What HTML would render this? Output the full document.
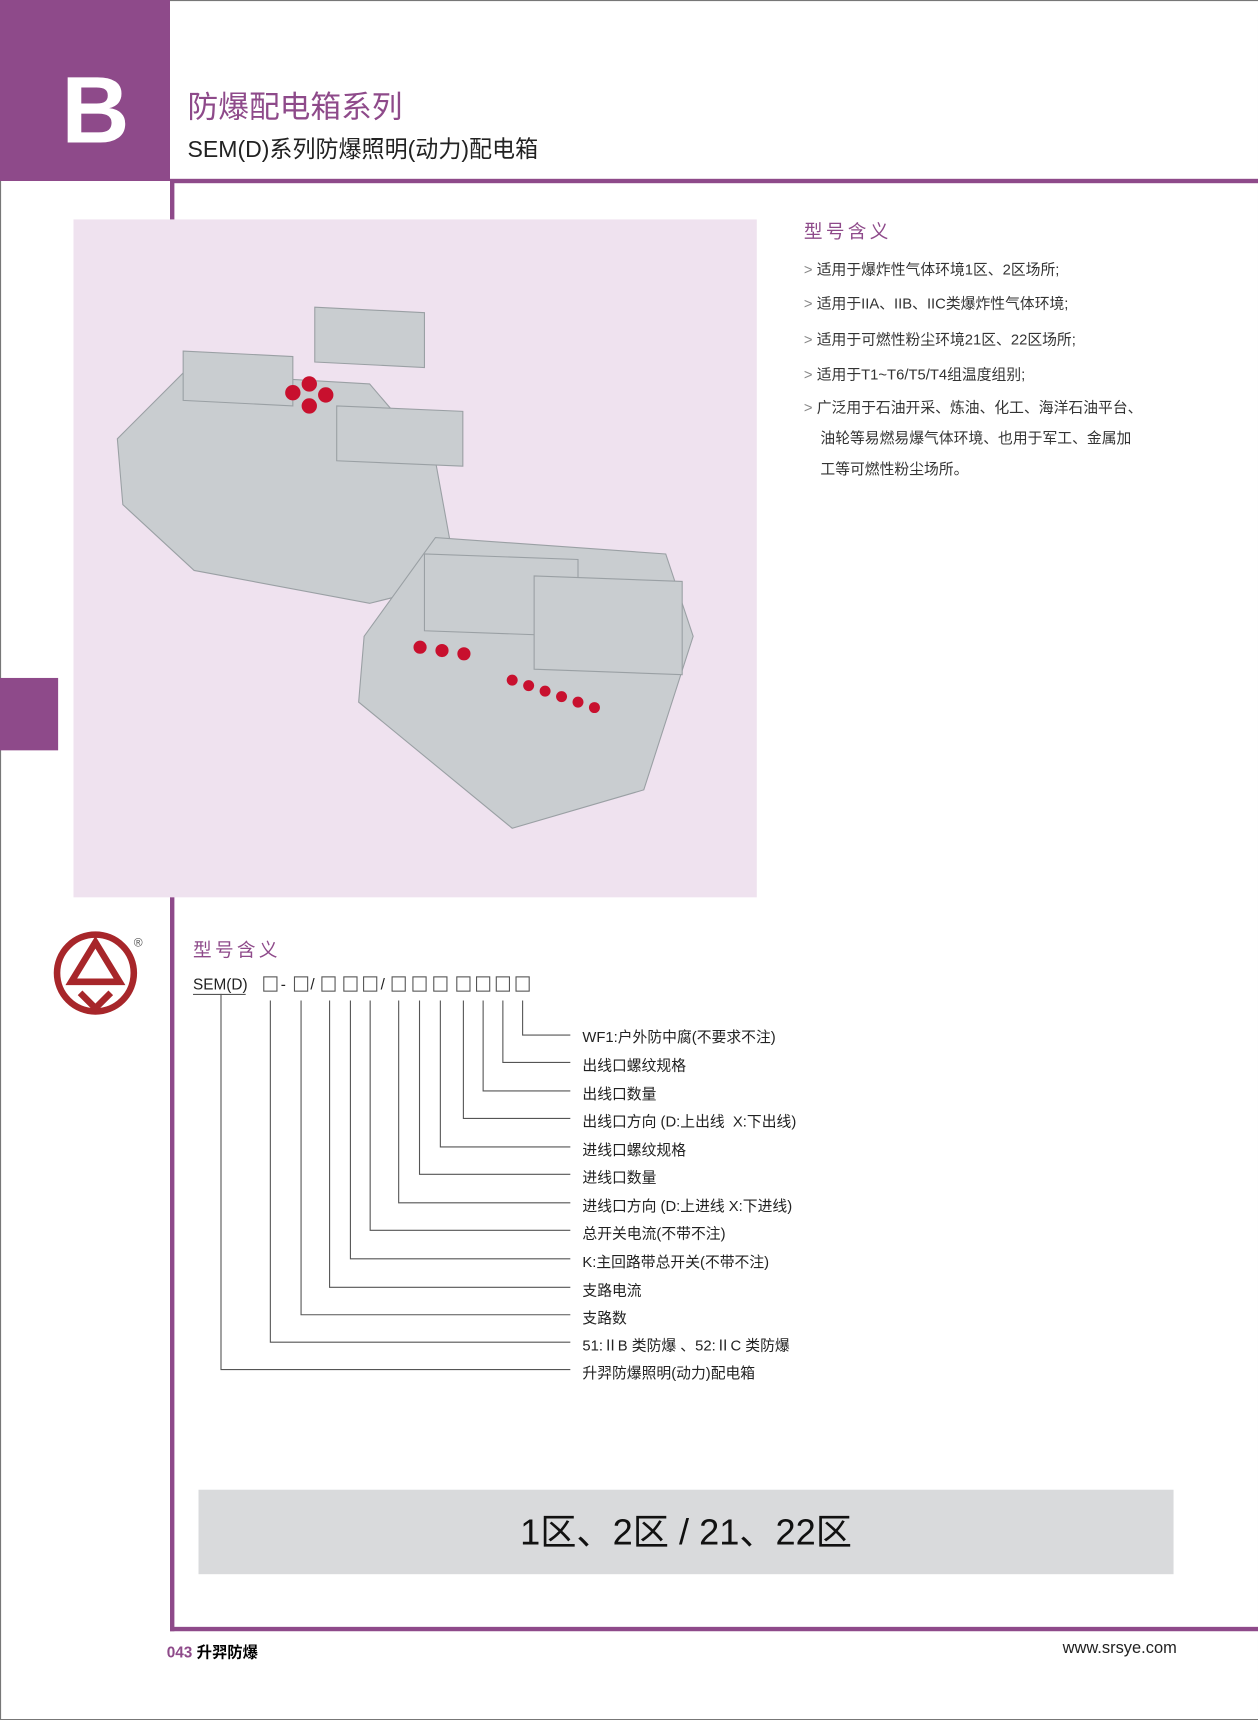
<!DOCTYPE html>
<html><head><meta charset="utf-8"><style>
html,body{margin:0;padding:0;background:#fff;}
body{width:1258px;height:1719px;overflow:hidden;position:relative;}
#w{position:absolute;left:0;top:0;width:1147px;height:1567px;transform:scale(1.09677,1.097);transform-origin:0 0;font-family:"Liberation Sans","Noto Sans CJK SC",sans-serif;}
.a{position:absolute;white-space:nowrap;}
.p{color:#8e4a8a;}
.bl{font-size:13.5px;color:#333;}
.bl b{font-weight:normal;color:#888;}
.lb{font-size:13.5px;color:#222;}
</style></head><body><div id="w">
<div class="a" style="left:0;top:0;width:1146px;height:1566px;border:1px solid #777;"></div>
<div class="a" style="left:0;top:0;width:155px;height:165px;background:#8e4a8a;"></div>
<div class="a" style="left:56px;top:52px;font-size:86px;font-weight:bold;color:#fff;">B</div>
<div class="a" style="left:155px;top:163px;width:992px;height:4px;background:#8e4a8a;"></div>
<div class="a" style="left:155px;top:165px;width:4px;height:1322px;background:#8e4a8a;"></div>
<div class="a" style="left:155px;top:1483px;width:992px;height:4px;background:#8e4a8a;"></div>
<div class="a p" style="left:171px;top:76px;font-size:28px;">防爆配电箱系列</div>
<div class="a" style="left:171px;top:120px;font-size:21px;color:#222;">SEM(D)系列防爆照明(动力)配电箱</div>
<div class="a" style="left:0;top:618px;width:53px;height:66px;background:#8e4a8a;"></div>
<div class="a" style="left:67px;top:200px;width:623px;height:618px;background:#efe2ef;"></div>
<svg class="a" style="left:67px;top:200px" width="623" height="618">
<g fill="#c9cdd0" stroke="#9aa0a4" stroke-width="1">
<polygon points="40,200 100,140 270,150 330,220 350,330 270,350 110,320 45,260"/>
<polygon points="100,120 200,125 200,170 100,165"/>
<polygon points="220,80 320,85 320,135 220,130"/>
<polygon points="240,170 355,175 355,225 240,220"/>
<polygon points="265,380 330,290 540,305 565,380 520,520 400,555 260,440"/>
<polygon points="320,305 460,310 460,380 320,375"/>
<polygon points="420,325 555,330 555,415 420,410"/>
</g>
<g fill="#c8102e"><circle cx="200" cy="158" r="7"/><circle cx="215" cy="150" r="7"/><circle cx="230" cy="160" r="7"/><circle cx="215" cy="170" r="7"/>
<circle cx="316" cy="390" r="6"/><circle cx="336" cy="393" r="6"/><circle cx="356" cy="396" r="6"/>
<circle cx="400" cy="420" r="5"/><circle cx="415" cy="425" r="5"/><circle cx="430" cy="430" r="5"/><circle cx="445" cy="435" r="5"/><circle cx="460" cy="440" r="5"/><circle cx="475" cy="445" r="5"/></g>
</svg>
<div class="a p" style="left:733px;top:197px;font-size:17px;letter-spacing:3px;">型号含义</div>
<div class="a bl" style="left:733px;top:234px;"><b>&gt;</b> 适用于爆炸性气体环境1区、2区场所;</div>
<div class="a bl" style="left:733px;top:265px;"><b>&gt;</b> 适用于IIA、IIB、IIC类爆炸性气体环境;</div>
<div class="a bl" style="left:733px;top:298px;"><b>&gt;</b> 适用于可燃性粉尘环境21区、22区场所;</div>
<div class="a bl" style="left:733px;top:330px;"><b>&gt;</b> 适用于T1~T6/T5/T4组温度组别;</div>
<div class="a bl" style="left:733px;top:360px;"><b>&gt;</b> 广泛用于石油开采、炼油、化工、海洋石油平台、</div>
<div class="a bl" style="left:748px;top:388px;">油轮等易燃易爆气体环境、也用于军工、金属加</div>
<div class="a bl" style="left:748px;top:416px;">工等可燃性粉尘场所。</div>
<svg class="a" style="left:45px;top:845px" width="100" height="85">
<circle cx="42" cy="42" r="35" fill="none" stroke="#a7262a" stroke-width="6"/>
<path d="M42 14 L20 50 L64 50 Z" fill="none" stroke="#a7262a" stroke-width="6"/>
<path d="M28 60 L42 74 L56 60" fill="none" stroke="#a7262a" stroke-width="6"/>
<text x="77" y="18" font-size="11" fill="#555" font-family="Liberation Sans">®</text>
</svg>
<div class="a p" style="left:176px;top:852px;font-size:17px;letter-spacing:3px;">型号含义</div>
<div class="a" style="left:176px;top:889px;font-size:14px;color:#222;">SEM(D)</div>
<svg class="a" style="left:0;top:0" width="1147" height="1300">
<g fill="none" stroke="#555" stroke-width="1">
<line x1="176" y1="906.5" x2="224" y2="906.5"/>
<rect x="240.5" y="890.5" width="12" height="13"/><rect x="268.5" y="890.5" width="12" height="13"/>
<rect x="293.5" y="890.5" width="12" height="13"/><rect x="313.5" y="890.5" width="12" height="13"/><rect x="331.5" y="890.5" width="12" height="13"/>
<rect x="357.5" y="890.5" width="12" height="13"/><rect x="376.5" y="890.5" width="12" height="13"/><rect x="395.5" y="890.5" width="12" height="13"/>
<rect x="416.5" y="890.5" width="12" height="13"/><rect x="434.5" y="890.5" width="12" height="13"/><rect x="452.5" y="890.5" width="12" height="13"/><rect x="470.5" y="890.5" width="12" height="13"/>
<path d="M476.5 912 V943.5 H520"/><path d="M458.5 912 V968.5 H520"/><path d="M440.5 912 V994.5 H520"/><path d="M422.5 912 V1019.5 H520"/>
<path d="M401.5 912 V1045.5 H520"/><path d="M382.5 912 V1070.5 H520"/><path d="M363.5 912 V1096.5 H520"/><path d="M337.5 912 V1121.5 H520"/>
<path d="M319.5 912 V1147.5 H520"/><path d="M300.5 912 V1173.5 H520"/><path d="M274.5 912 V1198.5 H520"/><path d="M246.5 912 V1223.5 H520"/><path d="M201.5 906 V1248.5 H520"/>
</g>
<g font-size="14" fill="#222" font-family="Liberation Sans"><text x="256" y="902">-</text><text x="283" y="902">/</text><text x="347" y="902">/</text></g>
</svg>
<div class="a lb" style="left:531px;top:934px;">WF1:户外防中腐(不要求不注)</div>
<div class="a lb" style="left:531px;top:960px;">出线口螺纹规格</div>
<div class="a lb" style="left:531px;top:986px;">出线口数量</div>
<div class="a lb" style="left:531px;top:1011px;">出线口方向 (D:上出线&nbsp; X:下出线)</div>
<div class="a lb" style="left:531px;top:1037px;">进线口螺纹规格</div>
<div class="a lb" style="left:531px;top:1062px;">进线口数量</div>
<div class="a lb" style="left:531px;top:1088px;">进线口方向 (D:上进线 X:下进线)</div>
<div class="a lb" style="left:531px;top:1113px;">总开关电流(不带不注)</div>
<div class="a lb" style="left:531px;top:1139px;">K:主回路带总开关(不带不注)</div>
<div class="a lb" style="left:531px;top:1165px;">支路电流</div>
<div class="a lb" style="left:531px;top:1190px;">支路数</div>
<div class="a lb" style="left:531px;top:1215px;">51:ⅡB 类防爆 、52:ⅡC 类防爆</div>
<div class="a lb" style="left:531px;top:1240px;">升羿防爆照明(动力)配电箱</div>
<div class="a" style="left:181px;top:1358px;width:889px;height:77px;background:#d9dadc;text-align:center;line-height:77px;font-size:33px;color:#111;">1区、2区 / 21、22区</div>
<div class="a" style="left:152px;top:1496px;font-size:14px;font-weight:bold;"><span class="p">043</span> 升羿防爆</div>
<div class="a" style="left:943px;top:1494px;width:130px;text-align:right;font-size:15px;color:#222;">www.srsye.com</div>
</div></body></html>
